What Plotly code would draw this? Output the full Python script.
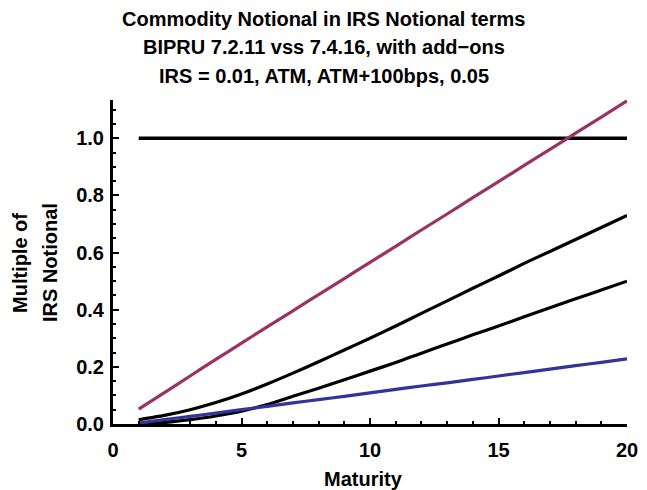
import plotly.graph_objects as go

maturity = list(range(1, 21))
irs_notional = [1.0] * 20
series_005 = [0.052, 0.110, 0.168, 0.226, 0.283, 0.340, 0.396, 0.453, 0.509, 0.566,
              0.622, 0.679, 0.735, 0.792, 0.848, 0.905, 0.961, 1.018, 1.074, 1.131]
series_atm100 = [0.015, 0.030, 0.050, 0.075, 0.105, 0.140, 0.178, 0.218, 0.259, 0.300,
                 0.343, 0.387, 0.431, 0.475, 0.518, 0.562, 0.604, 0.646, 0.688, 0.730]
series_atm = [0.000, 0.005, 0.015, 0.028, 0.045, 0.068, 0.097, 0.125, 0.155, 0.185,
              0.215, 0.248, 0.280, 0.312, 0.343, 0.375, 0.407, 0.438, 0.469, 0.500]
series_001 = [0.003, 0.015, 0.027, 0.038, 0.050, 0.062, 0.074, 0.085, 0.097, 0.109,
              0.121, 0.133, 0.144, 0.156, 0.168, 0.180, 0.192, 0.204, 0.216, 0.228]

title_lines = ["Commodity Notional in IRS Notional terms",
               "BIPRU 7.2.11 vss 7.4.16, with add\u2212ons",
               "IRS = 0.01, ATM, ATM+100bps, 0.05"]
ylabel_lines = ["Multiple of", "IRS Notional"]
xlabel = "Maturity"

FONT = "Liberation Sans, Arial, sans-serif"
OFF = 8  # page body margin offset
W, H = 647 - OFF, 490 - OFF
ML, MR, MT, MB = 113 - OFF, 20, 100 - OFF, 66
PW, PH = W - ML - MR, H - MT - MB

fig = go.Figure()
for ys, col, w in [(irs_notional, "black", 3.5), (series_005, "#993366", 3.2),
                   (series_atm100, "black", 3.2), (series_atm, "black", 3.2),
                   (series_001, "#333399", 3.2)]:
    fig.add_trace(go.Scatter(x=maturity, y=ys, mode="lines",
                             line=dict(color=col, width=w, shape="spline", smoothing=0.6),
                             showlegend=False, hoverinfo="skip"))

def px_x(p):
    return (p - OFF - ML) / PW

def px_y(p):
    return (H - MB - (p - OFF)) / PH

ann = []
for txt, yp in zip(title_lines, [19, 47, 76]):
    ann.append(dict(text=txt, x=px_x(323.5), y=px_y(yp), xref="paper", yref="paper",
                    xanchor="center", yanchor="middle", showarrow=False,
                    font=dict(family=FONT, size=20, color="black", weight="bold")))
for txt, xp in zip(ylabel_lines, [20, 50]):
    ann.append(dict(text=txt, x=px_x(xp), y=px_y(263), xref="paper", yref="paper",
                    xanchor="center", yanchor="middle", showarrow=False, textangle=-90,
                    font=dict(family=FONT, size=20, color="black", weight="bold")))
ann.append(dict(text=xlabel, x=px_x(363), y=px_y(479), xref="paper", yref="paper",
                xanchor="center", yanchor="middle", showarrow=False,
                font=dict(family=FONT, size=20, color="black", weight="bold")))

axis_common = dict(showline=True, linecolor="black", linewidth=3, mirror=False,
                   showgrid=False, zeroline=False, ticks="inside", tickcolor="black",
                   tickwidth=2, ticklen=6, automargin=False,
                   tickfont=dict(family=FONT, size=20, color="black", weight="bold"))

fig.update_layout(
    width=W, height=H, margin=dict(l=ML, r=MR, t=MT, b=MB, autoexpand=False),
    paper_bgcolor="white", plot_bgcolor="white",
    annotations=ann,
    xaxis=dict(range=[0, 20], tickvals=[0, 5, 10, 15, 20], ticklabeloverflow="allow",
               minor=dict(dtick=1, tick0=0, ticks="inside", ticklen=3, tickwidth=2, tickcolor="black"),
               ticklabelstandoff=6, **axis_common),
    yaxis=dict(range=[0, 1.134], tickvals=[0, 0.2, 0.4, 0.6, 0.8, 1.0], tickformat=".1f",
               minor=dict(dtick=0.05, tick0=0, ticks="inside", ticklen=3, tickwidth=2, tickcolor="black"),
               ticklabelstandoff=2, **axis_common),
)
fig.write_html("out.html")
